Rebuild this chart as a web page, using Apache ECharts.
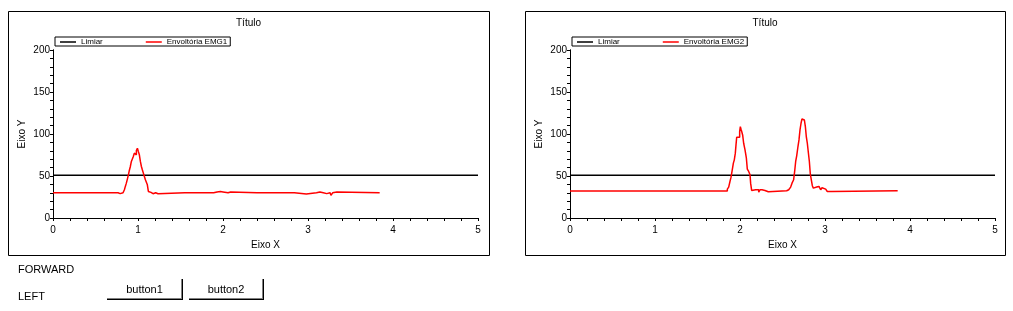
<!DOCTYPE html>
<html>
<head>
<meta charset="utf-8">
<script src="https://cdn.jsdelivr.net/npm/echarts@6/dist/echarts.min.js"></script>
<style>
  html, body { margin: 0; padding: 0; background: #fff; }
  #wrap { position: relative; width: 1013px; height: 311px; overflow: hidden; }
  #chart { position: absolute; left: 0; top: 0; width: 1013px; height: 311px; }
  .lbl { position: absolute; font-family: "Liberation Sans", Arial, sans-serif; font-size: 11px; color: #000; }
  .btn { position: absolute; height: 21px; font-family: "Liberation Sans", Arial, sans-serif; font-size: 11px;
         color: #000; text-align: center; line-height: 21px; background: #fff; box-sizing: border-box;
         border-right: 1px solid #000; border-bottom: 1px solid #000; box-shadow: inset -1px -1px 0 #808080; }
</style>
</head>
<body>
<div id="wrap">
  <div id="chart"></div>
  <div class="lbl" style="left:18px; top:263px;">FORWARD</div>
  <div class="lbl" style="left:18px; top:290px;">LEFT</div>
  <div class="btn" style="left:107px; top:279px; width:76px;">button1</div>
  <div class="btn" style="left:189px; top:279px; width:75px;">button2</div>
</div>
<script>
// ---- data ----
const chartTitle = 'Título';
const xAxisName = 'Eixo X';
const yAxisName = 'Eixo Y';
const xTicks = [0, 1, 2, 3, 4, 5];
const yTicks = [0, 50, 100, 150, 200];
const thresholdName = 'Limiar';
const thresholdX = [0, 5];
const thresholdY = [51, 51];

const emg1Name = 'Envoltória EMG1';
const emg1X = [0, 0.765, 0.775, 0.79, 0.824, 0.840, 0.851, 0.863, 0.875, 0.887, 0.898, 0.910, 0.922, 0.934,
  0.945, 0.957, 0.969, 0.981, 0.993, 1.004, 1.016, 1.028, 1.040, 1.051, 1.063, 1.075, 1.087, 1.098, 1.110,
  1.122, 1.138, 1.153, 1.177, 1.208, 1.236,
  1.55, 1.56, 1.68, 1.69, 1.83, 1.85, 1.89, 1.93, 1.97, 2.0, 2.06, 2.09, 2.40, 2.41, 2.53, 2.54, 2.56, 2.57,
  2.60, 2.61, 2.67, 2.69, 2.70, 2.72, 2.75, 2.76, 2.78, 2.79, 2.84, 2.98, 3.10, 3.12, 3.14, 3.16, 3.18,
  3.22, 3.24, 3.26, 3.27, 3.29, 3.31, 3.34, 3.36, 3.843];
const emg1Y = [30, 31, 29, 30, 31.6, 33.6, 37.6, 41.5, 46.3, 51.4, 56.6, 61.3, 67.3, 68.5,
  73.2, 77.2, 75.2, 80.3, 83.1, 79.2, 75.2, 67.3, 61.3, 57.4, 53.4, 49.5, 45.5, 43.5, 39.5,
  31.6, 30.5, 28.9, 30, 28.9, 30,
  31, 30, 29, 30, 29, 30, 31, 31.5, 31, 30, 31, 30, 29, 30, 29, 30, 31, 30,
  29, 30, 31, 30, 31, 30, 31, 30, 31, 30, 28.5, 30, 29, 31, 32, 30, 29,
  31, 30, 29, 27, 30, 31, 29, 30, 30];

const emg2Name = 'Envoltória EMG2';
const emg2X = [0, 1.851, 1.867, 1.882, 1.894, 1.906, 1.922, 1.933, 1.945, 1.953, 1.961, 1.973, 1.984, 1.996,
  2.004, 2.012, 2.020, 2.031, 2.043, 2.059, 2.075, 2.086, 2.102, 2.118, 2.125, 2.137, 2.157, 2.184, 2.204,
  2.220, 2.235, 2.259, 2.275, 2.294, 2.333, 2.549, 2.573, 2.596, 2.612, 2.631, 2.643, 2.655, 2.667, 2.682,
  2.694, 2.706, 2.718, 2.729, 2.745, 2.757, 2.769, 2.780, 2.792, 2.804, 2.816, 2.827, 2.839, 2.851, 2.863,
  2.874, 2.902, 2.929, 2.949, 2.965, 2.988, 3.008, 3.027, 3.078, 3.855];
const emg2Y = [32, 34.4, 36.8, 43.5, 48.3, 55.4, 65.3, 69.2, 77.2, 87.1, 96.2, 95, 96.2, 102.9,
  108.8, 105.7, 102.9, 98.9, 89, 81.1, 71.2, 58.2, 55.4, 51.4, 41.5, 32.8, 33.6, 32.8, 33.6,
  30.8, 33.6, 34.4, 32.8, 31.2, 32.4, 33.6, 34.4, 36.8, 41.5, 45.5, 55.4, 67.3, 74, 85.1,
  93, 104.9, 112.8, 117.9, 116.7, 117.5, 108.8, 97, 89, 78, 67.3, 52.6, 45.5, 38.4, 35.6,
  36.8, 37.6, 35.6, 33.6, 36, 34.4, 32.8, 31.6, 32.4, 32.4];

// ---- build ----
const FONT = '"Liberation Sans", Arial, sans-serif';
const zip = (xs, ys) => xs.map((x, i) => [x, ys[i]]);

const panels = [
  { gridLeft: 53, frameX: 8, frameW: 481, name: emg1Name, xs: emg1X, ys: emg1Y },
  { gridLeft: 570, frameX: 525, frameW: 480, name: emg2Name, xs: emg2X, ys: emg2Y }
];

const grids = [], xAxes = [], yAxes = [], series = [], legends = [], titles = [], graphics = [];
const xMin = xTicks[0], xMax = xTicks[xTicks.length - 1], xInt = xTicks[1] - xTicks[0];
const yMin = yTicks[0], yMax = yTicks[yTicks.length - 1], yInt = yTicks[1] - yTicks[0];
const lineStyle = { color: '#000', width: 1 };

panels.forEach((p, i) => {
  grids.push({ left: p.gridLeft, top: 50, width: 425, height: 168, containLabel: false });
  xAxes.push({
    type: 'value', gridIndex: i, position: 'bottom', min: xMin, max: xMax, interval: xInt,
    name: xAxisName, nameLocation: 'middle', nameGap: 20,
    nameTextStyle: { fontFamily: FONT, fontSize: 10, color: '#000' },
    axisLine: { show: true, lineStyle }, splitLine: { show: false },
    axisTick: { show: true, inside: false, length: 3, lineStyle },
    minorTick: { show: true, splitNumber: 5, length: 2, lineStyle },
    axisLabel: { fontFamily: FONT, fontSize: 10, color: '#000', margin: 7 }
  });
  xAxes.push({
    type: 'value', gridIndex: i, position: 'top', min: xMin, max: xMax, interval: xInt,
    axisLine: { show: true, lineStyle }, splitLine: { show: false },
    axisTick: { show: true, inside: true, length: 3, lineStyle },
    minorTick: { show: true, splitNumber: 5, length: 3, lineStyle },
    axisLabel: { show: false }
  });
  yAxes.push({
    type: 'value', gridIndex: i, position: 'left', min: yMin, max: yMax, interval: yInt,
    name: yAxisName, nameLocation: 'middle', nameGap: 26, nameRotate: 90,
    nameTextStyle: { fontFamily: FONT, fontSize: 10, color: '#000' },
    axisLine: { show: true, lineStyle }, splitLine: { show: false },
    axisTick: { show: true, inside: false, length: 3, lineStyle },
    minorTick: { show: true, splitNumber: 5, length: 2, lineStyle },
    axisLabel: { fontFamily: FONT, fontSize: 10, color: '#000', margin: 3 }
  });
  yAxes.push({
    type: 'value', gridIndex: i, position: 'right', min: yMin, max: yMax, interval: yInt,
    axisLine: { show: true, lineStyle }, splitLine: { show: false },
    axisTick: { show: true, inside: true, length: 3, lineStyle },
    minorTick: { show: true, splitNumber: 5, length: 3, lineStyle },
    axisLabel: { show: false }
  });
  series.push({
    name: thresholdName, type: 'line', xAxisIndex: 2 * i, yAxisIndex: 2 * i,
    data: zip(thresholdX, thresholdY), showSymbol: false, symbol: 'none', silent: true,
    lineStyle: { color: '#000', width: 1.5 }, itemStyle: { color: '#000' }
  });
  series.push({
    name: p.name, type: 'line', xAxisIndex: 2 * i, yAxisIndex: 2 * i, step: 'end',
    data: zip(p.xs, p.ys), showSymbol: false, symbol: 'none', silent: true,
    lineStyle: { color: '#ff0000', width: 1.5 }, itemStyle: { color: '#ff0000' }
  });
  legends.push({
    left: p.gridLeft + 2, top: 37, orient: 'horizontal',
    data: [thresholdName, p.name],
    icon: 'rect', itemWidth: 16, itemHeight: 1.5, itemGap: 43,
    borderColor: '#000', borderWidth: 1, padding: [1, 3, 0, 5],
    textStyle: { fontFamily: FONT, fontSize: 8, color: '#000', lineHeight: 8 }
  });
  titles.push({
    text: chartTitle, left: p.frameX + p.frameW / 2, top: 18, textAlign: 'center', padding: 0,
    textStyle: { fontFamily: FONT, fontSize: 10, fontWeight: 'normal', color: '#000' }
  });
  graphics.push({
    type: 'rect', silent: true, z: -1,
    shape: { x: p.frameX + 0.5, y: 11.5, width: p.frameW, height: 244 },
    style: { fill: 'none', stroke: '#000', lineWidth: 1 }
  });
});

const chart = echarts.init(document.getElementById('chart'), null, { renderer: 'canvas' });
chart.setOption({
  animation: false,
  backgroundColor: '#fff',
  title: titles,
  legend: legends,
  grid: grids,
  xAxis: xAxes,
  yAxis: yAxes,
  series: series,
  graphic: graphics
});
</script>
</body>
</html>
